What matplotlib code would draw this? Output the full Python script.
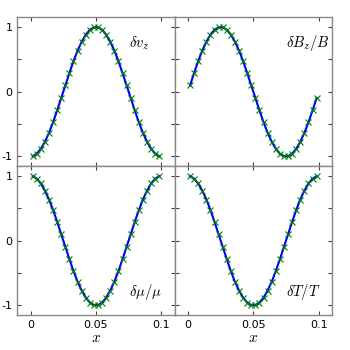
import matplotlib
matplotlib.use("Agg")
import matplotlib.pyplot as plt

plt.rcParams['mathtext.fontset'] = 'cm'
plt.rcParams['axes.unicode_minus'] = False

# cell centres, 32 cells over [0, 0.1]
x = [0.0016, 0.0047, 0.0078, 0.0109, 0.0141, 0.0172, 0.0203, 0.0234,
     0.0266, 0.0297, 0.0328, 0.0359, 0.0391, 0.0422, 0.0453, 0.0484,
     0.0516, 0.0547, 0.0578, 0.0609, 0.0641, 0.0672, 0.0703, 0.0734,
     0.0766, 0.0797, 0.0828, 0.0859, 0.0891, 0.0922, 0.0953, 0.0984]

dvz = [-0.995, -0.957, -0.882, -0.773, -0.634, -0.471, -0.290, -0.098,
       0.098, 0.290, 0.471, 0.634, 0.773, 0.882, 0.957, 0.995,
       0.995, 0.957, 0.882, 0.773, 0.634, 0.471, 0.290, 0.098,
       -0.098, -0.290, -0.471, -0.634, -0.773, -0.882, -0.957, -0.995]
dBz = [0.098, 0.290, 0.471, 0.634, 0.773, 0.882, 0.957, 0.995,
       0.995, 0.957, 0.882, 0.773, 0.634, 0.471, 0.290, 0.098,
       -0.098, -0.290, -0.471, -0.634, -0.773, -0.882, -0.957, -0.995,
       -0.995, -0.957, -0.882, -0.773, -0.634, -0.471, -0.290, -0.098]
dmu = [0.995, 0.957, 0.882, 0.773, 0.634, 0.471, 0.290, 0.098,
       -0.098, -0.290, -0.471, -0.634, -0.773, -0.882, -0.957, -0.995,
       -0.995, -0.957, -0.882, -0.773, -0.634, -0.471, -0.290, -0.098,
       0.098, 0.290, 0.471, 0.634, 0.773, 0.882, 0.957, 0.995]
dT = [0.995, 0.957, 0.882, 0.773, 0.634, 0.471, 0.290, 0.098,
      -0.098, -0.290, -0.471, -0.634, -0.773, -0.882, -0.957, -0.995,
      -0.995, -0.957, -0.882, -0.773, -0.634, -0.471, -0.290, -0.098,
      0.098, 0.290, 0.471, 0.634, 0.773, 0.882, 0.957, 0.995]

labels = [r'$\delta v_z$', r'$\delta B_z/B$', r'$\delta \mu/\mu$', r'$\delta T/T$']
label_y = [0.75, 0.75, -0.8, -0.8]
xticks = [0, 0.05, 0.1]
xticklabels = ['0', '0.05', '0.1']
yticks = [-1, -0.5, 0, 0.5, 1]
yticklabels = ['-1', '', '0', '', '1']

fig, axes = plt.subplots(2, 2, figsize=(3.5, 3.5), dpi=100)
fig.subplots_adjust(left=0.0494, right=0.9486, top=0.9506, bottom=0.1,
                    wspace=0, hspace=0)

data = [dvz, dBz, dmu, dT]
for k, ax in enumerate(axes.flat):
    ax.plot(x, data[k], '-', color='b', lw=1.5, zorder=2)
    ax.plot(x, data[k], 'x', color='g', ms=4.5, mew=0.8, zorder=3)
    ax.text(0.075, label_y[k], labels[k], fontsize=10.5, va='center', ha='left')
    ax.set_xlim(-0.0102, 0.1102)
    ax.set_ylim(-1.15, 1.15)
    ax.set_xticks(xticks)
    ax.set_yticks(yticks)
    ax.tick_params(direction='in', length=3, width=0.8, color='#444444',
                   top=True, right=True, labelsize=8)
    for s in ax.spines.values():
        s.set_color('#888888')
        s.set_linewidth(1.0)
    if k % 2 == 0:
        ax.set_yticklabels(yticklabels)
    else:
        ax.set_yticklabels([])
    if k >= 2:
        ax.set_xticklabels(xticklabels)
        ax.set_xlabel(r'$x$', fontsize=11, labelpad=0)
    else:
        ax.set_xticklabels([])

fig.savefig('out.png', dpi=100)
